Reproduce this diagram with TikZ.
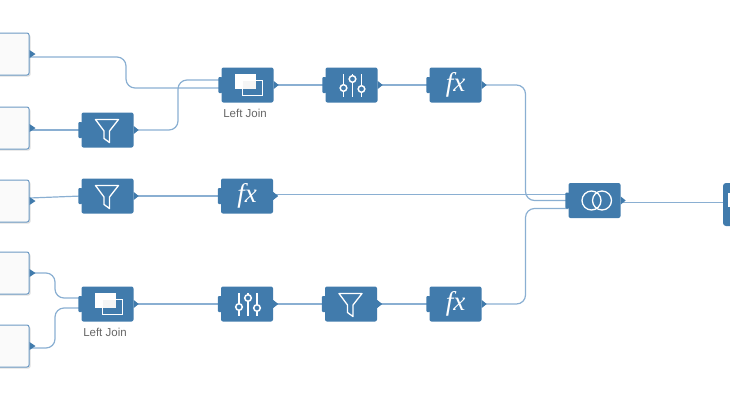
\documentclass[tikz,border=0pt]{standalone}
\usepackage{fontspec}
\setmainfont{Liberation Sans}
\newfontfamily\fxfont{Liberation Serif}
\usetikzlibrary{positioning,shadows}
\definecolor{boxblue}{HTML}{417BAC}
\definecolor{linkblue}{HTML}{8AAFD2}
\definecolor{edgeblue}{HTML}{6D9AC4}
\tikzset{
    >=latex,
    stepbox/.style={fill=boxblue,rounded corners=2pt,minimum width=52pt,minimum height=35pt,inner sep=0pt,text=white},
    srcbox/.style={draw=edgeblue,line width=1pt,fill=white!98!black,rounded corners=2pt,minimum width=58pt,minimum height=42pt,drop shadow={shadow xshift=1.5pt,shadow yshift=-1.5pt,opacity=.25}},
    joinlabel/.style={text=black!60,font=\fontsize{11.5}{12}\selectfont,inner sep=0pt},
    link/.style={draw=linkblue,line width=1.2pt,rounded corners=9pt},
    glyph/.style={draw=white,line width=1.3pt,line join=round},
    fxbox/.style={stepbox,font=\fxfont\itshape\fontsize{27}{27}\selectfont},
}
\newcommand\elbow[3]{
    \draw[link] (#1) -- (#1 -| #3) -- (#2 -| #3) -- (#2);
}
\newcommand\funnelicon[1]{
    \draw[glyph,shift={(#1.center)}] (-12,-10.5) -- (11,-10.5) -- (2,1) -- (2,12.5) -- (-3.5,8.5) -- (-3.5,1) -- cycle;
}
\newcommand\joinicon[1]{
    \begin{scope}[shift={(#1.center)}]
        \fill[white] (-12.5,-11) rectangle (8,4);
        \fill[black!4] (-5.5,-5) rectangle (8,4);
        \draw[white,line width=1pt] (-5.5,-5) rectangle (15,10.5);
    \end{scope}
}
\newcommand\slidericon[1]{
    \begin{scope}[shift={(#1.center)}]
        \foreach \x/\y in {-8/3,1/-6,10/4}{
            \draw[white,line width=1.3pt] (\x,-11) -- (\x,12);
            \draw[white,line width=1.5pt,fill=boxblue] (\x,\y) circle (3.3pt);
        }
    \end{scope}
}
\begin{document}
\begin{tikzpicture}[x=1pt,y=-1pt]
    \useasboundingbox (0,0) rectangle (730,410);
    % sources
    \node[srcbox] (src1) at (0,54) {};
    \node[srcbox] (src2) at (0,128) {};
    \node[srcbox] (src3) at (0,201) {};
    \node[srcbox] (src4) at (0,273) {};
    \node[srcbox] (src5) at (0,346) {};
    % top row
    \node[stepbox] (filter1) at (107.5,130) {};
    \node[stepbox] (join1) at (247.5,85) {};
    \node[stepbox] (slider1) at (351.5,85) {};
    \node[fxbox] (fx1) at (455.5,85) {fx};
    % middle row
    \node[stepbox] (filter2) at (107.5,196) {};
    \node[fxbox] (fx2) at (247,196) {fx};
    % bottom row
    \node[stepbox] (join2) at (107.5,304) {};
    \node[stepbox] (slider2) at (247,304) {};
    \node[stepbox] (filter3) at (351,304) {};
    \node[fxbox] (fx3) at (455.5,304) {fx};
    % union and target
    \node[stepbox] (union) at (594.5,200.5) {};
    \node[stepbox,rounded corners=3pt,minimum height=43pt] (target) at (749,204.5) {};
    \node[joinlabel,below=6pt of join1,xshift=-2.5pt] (lbl1) {Left Join};
    \node[joinlabel,below=6pt of join2,xshift=-2.5pt] (lbl2) {Left Join};
    % bends
    \coordinate (bend1) at (126,72);
    \coordinate (bend2) at (178,105);
    \coordinate (bend3) at (55,285);
    \coordinate (bend4) at (55,328);
    \coordinate (bend5) at (525.5,140);
    \coordinate (bend6) at (525.5,260);
    % ports
    \coordinate (out1) at ([yshift=-3pt]src1.east);
    \coordinate (in1) at ([yshift=-3pt]join1.west);
    \coordinate (in2) at ([yshift=5pt]join1.west);
    \coordinate (out3) at ([yshift=1.5pt]fx2.east);
    \coordinate (out5) at ([yshift=-2pt]src5.east);
    \coordinate (in4) at ([yshift=6pt]join2.west);
    \coordinate (in5) at ([yshift=-4pt]join2.west);
    \coordinate (in6) at ([yshift=-8pt]union.west);
    \coordinate (out7) at ([yshift=-2pt]union.east);
    % connectors
    \elbow{out1}{in1}{bend1}
    \draw[link] (src2.east |- filter1.west) -- (filter1.west);
    \elbow{filter1.east}{in2}{bend2}
    \draw[link] ([yshift=3pt]src3.east) -- (filter2.west);
    \draw[link] (filter2.east) -- (fx2.west);
    \elbow{src4.east}{in4}{bend3}
    \elbow{out5}{in5}{bend4}
    \draw[link] (join1.east) -- (slider1.west);
    \draw[link] (slider1.east) -- (fx1.west);
    \draw[link] (join2.east) -- (slider2.west);
    \draw[link] (slider2.east) -- (filter3.west);
    \draw[link] (filter3.east) -- (fx3.west);
    \elbow{fx1.east}{union.west}{bend5}
    \draw[link] (out3) -- (out3 -| union.west);
    \elbow{fx3.east}{in6}{bend6}
    \draw[link] (out7) -- (out7 -| target.west);
    % port tips
    \foreach \n in {filter1,join1,slider1,fx1,filter2,fx2,join2,slider2,filter3,fx3,union}{
        \fill[boxblue,rounded corners=1pt] ([shift={(-3,-8)}]\n.west) rectangle ([shift={(1,8)}]\n.west);
        \fill[boxblue] ([yshift=4pt]\n.east) -- ([xshift=5pt]\n.east) -- ([yshift=-4pt]\n.east) -- cycle;
    }
    \foreach \n in {src1,src2,src3,src4,src5}{
        \fill[boxblue] ([yshift=4pt]\n.east) -- ([xshift=6pt]\n.east) -- ([yshift=-4pt]\n.east) -- cycle;
    }
    % icons
    \funnelicon{filter1}
    \funnelicon{filter2}
    \funnelicon{filter3}
    \joinicon{join1}
    \joinicon{join2}
    \slidericon{slider1}
    \slidericon{slider2}
    \draw[glyph] ([xshift=-3pt]union.center) circle (9.5pt);
    \draw[glyph] ([xshift=7.5pt]union.center) circle (9.5pt);
    \fill[white] ([shift={(5,-11.5)}]target.west) rectangle ([shift={(9,2.5)}]target.west);
\end{tikzpicture}
\end{document}
